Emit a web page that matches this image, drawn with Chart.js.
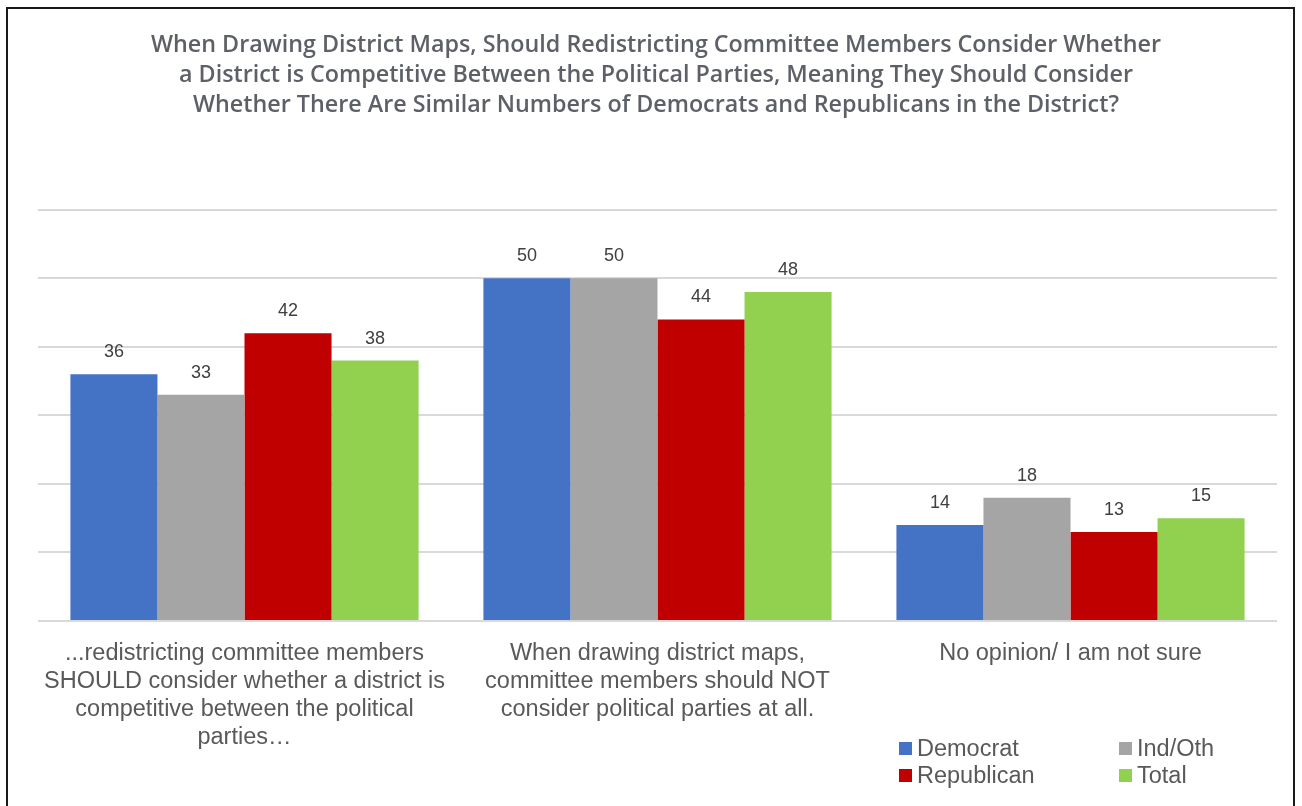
<!DOCTYPE html>
<html>
<head>
<meta charset="utf-8">
<script src="https://cdn.jsdelivr.net/npm/chart.js@4"></script>
<style>
  html, body { margin: 0; padding: 0; background: #fff; }
  #wrap { position: relative; width: 1302px; height: 806px; overflow: hidden; }
  #frame { position: absolute; left: 6px; top: 7px; width: 1289px; height: 820px; border: 2px solid #1a1a1a; box-sizing: border-box; }
  #chart { position: absolute; left: 0; top: 0; }
  #legend { position: absolute; left: 899px; top: 735px; width: 380px; display: grid; grid-template-columns: 220px 150px; row-gap: 1px;
            font-family: "Liberation Sans", Arial, sans-serif; font-size: 23.5px; color: #595959; }
  #legend .item { display: flex; align-items: center; height: 26px; }
  #legend .sw { width: 13px; height: 13px; margin-right: 5px; }
</style>
</head>
<body>
<div id="wrap">
  <div id="frame"></div>
  <canvas id="chart" width="1302" height="806"></canvas>
  <div id="legend"></div>
</div>
<script>
// Respuestas por grupo partidario (%)
const categories = [
  ['...redistricting committee members', 'SHOULD consider whether a district is', 'competitive between the political', 'parties\u2026'],
  ['When drawing district maps,', 'committee members should NOT', 'consider political parties at all.'],
  ['No opinion/ I am not sure']
];
const seriesNames = ['Democrat', 'Ind/Oth', 'Republican', 'Total'];
const democrat = [36, 50, 14];
const indOth = [33, 50, 18];
const republican = [42, 44, 13];
const total = [38, 48, 15];
const colors = ['#4472C4', '#A5A5A5', '#C00000', '#92D050'];
const titleLines = [
  'When Drawing District Maps, Should Redistricting Committee Members Consider Whether',
  'a District is Competitive Between the Political Parties, Meaning They Should Consider',
  'Whether There Are Similar Numbers of Democrats and Republicans in the District?'
];

const seriesValues = [democrat, indOth, republican, total];

// Etiquetas de valor encima de cada barra
const valueLabels = {
  id: 'valueLabels',
  afterDatasetsDraw(chart) {
    const ctx = chart.ctx;
    ctx.save();
    ctx.font = '18px "Liberation Sans", Arial, sans-serif';
    ctx.fillStyle = '#404040';
    ctx.textAlign = 'center';
    ctx.textBaseline = 'middle';
    chart.data.datasets.forEach((ds, i) => {
      chart.getDatasetMeta(i).data.forEach((bar, j) => {
        ctx.fillText(String(ds.data[j]), bar.x, bar.y - 22);
      });
    });
    ctx.restore();
  }
};

const ctx = document.getElementById('chart').getContext('2d');
const chart = new Chart(ctx, {
  type: 'bar',
  data: {
    labels: categories,
    datasets: seriesNames.map((name, i) => ({
      label: name,
      data: seriesValues[i],
      backgroundColor: colors[i],
      borderWidth: 0,
      categoryPercentage: 0.843,
      barPercentage: 1.0
    }))
  },
  options: {
    responsive: false,
    animation: false,
    layout: { padding: { top: 31, right: 25, left: 35, bottom: 0 } },
    plugins: {
      legend: { display: false },
      tooltip: { enabled: false },
      title: {
        display: true,
        text: titleLines,
        color: '#5d6167',
        font: { family: '"Open Sans", "Liberation Sans", sans-serif', size: 23.3, weight: 600, lineHeight: 1.27 },
        padding: { top: 0, bottom: 90 }
      }
    },
    scales: {
      x: {
        grid: { display: false },
        border: { display: false },
        ticks: {
          color: '#595959',
          font: { family: '"Liberation Sans", Arial, sans-serif', size: 23.5, lineHeight: 1.2 },
          maxRotation: 0,
          autoSkip: false,
          padding: 10
        },
        afterFit(scale) { scale.height = 185; }
      },
      y: {
        min: 0,
        max: 60,
        ticks: { display: false, stepSize: 10 },
        grid: { color: '#d9d9d9', lineWidth: 2, drawTicks: false },
        border: { display: false },
        afterFit(scale) { scale.width = 3; }
      }
    }
  },
  plugins: [valueLabels]
});

// Leyenda en dos columnas abajo a la derecha
const legendEl = document.getElementById('legend');
chart.data.datasets.forEach(ds => {
  const item = document.createElement('div');
  item.className = 'item';
  item.innerHTML = '<span class="sw" style="background:' + ds.backgroundColor + '"></span>' + ds.label;
  legendEl.appendChild(item);
});
</script>
</body>
</html>
